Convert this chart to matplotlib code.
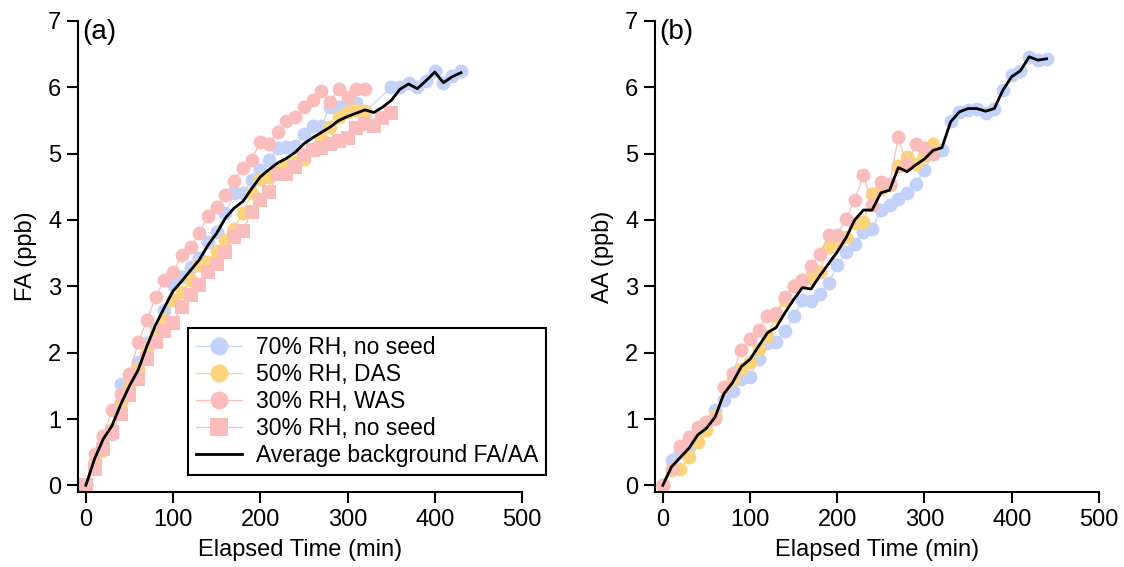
import numpy as np
import matplotlib.pyplot as plt

plt.rcParams['font.family'] = ['Liberation Sans', 'DejaVu Sans']

# colours of the four experiments
blue = '#c3d2fb'
yellow = '#fdd47c'
pink = '#fbbcbc'

# (a) formic acid, ppb
t_a_blue = list(range(0, 330, 10)) + list(range(350, 440, 10))
fa_blue = [0, 0.35, 0.73, 0.78, 1.53, 1.56, 1.86, 2.14, 2.36, 2.64, 3.04, 3.14, 3.29,
           3.42, 3.67, 3.82, 4.10, 4.40, 4.40, 4.60, 4.75, 4.90, 5.08, 5.10, 5.11, 5.30,
           5.41, 5.42, 5.71, 5.71, 5.78, 5.77, 5.63,
           6.00, 6.00, 6.07, 6.00, 6.10, 6.24, 6.07, 6.17, 6.24]
t_a_yellow = list(range(0, 330, 10))
fa_yellow = [0, 0.35, 0.53, 0.85, 1.26, 1.50, 1.75, 2.07, 2.30, 2.49, 2.79, 2.92, 3.09,
             3.32, 3.37, 3.53, 3.70, 3.87, 4.10, 4.40, 4.62, 4.65, 4.74, 4.83, 4.88, 4.92,
             5.05, 5.23, 5.40, 5.56, 5.63, 5.66, 5.65]
t_a_pink = list(range(0, 330, 10))
fa_pink = [0, 0.47, 0.75, 1.13, 1.38, 1.68, 2.16, 2.49, 2.84, 3.10, 3.22, 3.47, 3.59,
           3.80, 4.06, 4.20, 4.37, 4.59, 4.79, 4.91, 5.18, 5.15, 5.33, 5.49, 5.55, 5.70,
           5.81, 5.95, 5.78, 5.98, 5.86, 5.98, 5.97]
t_a_square = list(range(0, 360, 10))
fa_square = [0, 0.24, 0.55, 0.80, 1.08, 1.36, 1.61, 1.90, 2.16, 2.33, 2.45, 2.69, 2.87,
             3.02, 3.22, 3.34, 3.52, 3.75, 3.84, 4.12, 4.30, 4.42, 4.70, 4.70, 4.80, 4.98,
             5.06, 5.08, 5.15, 5.19, 5.23, 5.38, 5.44, 5.41, 5.53, 5.62]
t_a_avg = list(range(0, 440, 10))
fa_avg = [0, 0.40, 0.70, 0.90, 1.22, 1.50, 1.74, 2.10, 2.42, 2.68, 2.93, 3.08, 3.24,
          3.40, 3.62, 3.80, 4.03, 4.18, 4.28, 4.47, 4.65, 4.76, 4.86, 4.93, 5.02, 5.15,
          5.24, 5.32, 5.40, 5.50, 5.56, 5.61, 5.66, 5.62, 5.70, 5.80, 5.97, 6.05, 5.98,
          6.10, 6.23, 6.07, 6.16, 6.22]

# (b) acetic acid, ppb
t_b_blue = list(range(0, 450, 10))
aa_blue = [0, 0.38, 0.50, 0.58, 0.80, 0.94, 1.13, 1.28, 1.42, 1.61, 1.64, 1.91, 2.14,
           2.16, 2.33, 2.55, 2.79, 2.78, 2.89, 3.05, 3.32, 3.52, 3.64, 3.82, 3.87, 4.15,
           4.23, 4.32, 4.40, 4.54, 4.76, 4.99, 5.06, 5.49, 5.63, 5.66, 5.68, 5.62, 5.67,
           5.96, 6.18, 6.25, 6.46, 6.41, 6.43]
t_b_yellow = list(range(0, 320, 10))
aa_yellow = [0, 0.23, 0.24, 0.43, 0.65, 0.83, 1.05, 1.48, 1.60, 1.76, 1.86, 2.06, 2.25,
             2.56, 2.80, 3.00, 3.09, 3.12, 3.22, 3.59, 3.65, 3.75, 3.96, 3.97, 4.39, 4.47,
             4.52, 4.81, 4.95, 4.85, 4.97, 5.14]
t_b_pink = list(range(0, 320, 10))
aa_pink = [0, 0.25, 0.60, 0.73, 0.88, 0.95, 1.00, 1.48, 1.69, 2.04, 2.21, 2.34, 2.56,
           2.60, 2.84, 3.00, 3.09, 3.30, 3.49, 3.77, 3.77, 4.02, 4.30, 4.68, 4.22, 4.57,
           4.55, 5.25, 4.83, 5.15, 5.08, 5.00]
t_b_avg = list(range(0, 450, 10))
aa_avg = [0, 0.28, 0.42, 0.56, 0.76, 0.86, 1.03, 1.38, 1.55, 1.79, 1.90, 2.10, 2.30,
          2.38, 2.60, 2.80, 2.98, 2.96, 3.16, 3.34, 3.52, 3.73, 4.00, 4.15, 4.15, 4.41,
          4.45, 4.79, 4.73, 4.83, 4.92, 5.05, 5.09, 5.48, 5.63, 5.68, 5.68, 5.64, 5.68,
          5.96, 6.16, 6.25, 6.46, 6.41, 6.43]

labels = ['70% RH, no seed', '50% RH, DAS', '30% RH, WAS', '30% RH, no seed',
          'Average background FA/AA']

fig = plt.figure(figsize=(11.24, 5.67), dpi=100)
ax1 = fig.add_axes([0.0694, 0.1323, 0.395, 0.8307])
ax2 = fig.add_axes([0.5827, 0.1323, 0.395, 0.8307])

mk = dict(lw=0.9, ms=10, markeredgewidth=0)

ax1.plot(t_a_blue, fa_blue, 'o-', color=blue, label=labels[0], **mk)
ax1.plot(t_a_yellow, fa_yellow, 'o-', color=yellow, label=labels[1], **mk)
ax1.plot(t_a_pink, fa_pink, 'o-', color=pink, label=labels[2], **mk)
ax1.plot(t_a_square, fa_square, 's-', color=pink, label=labels[3], **mk)
ax1.plot(t_a_avg, fa_avg, '-', color='black', lw=2, label=labels[4])

ax2.plot(t_b_blue, aa_blue, 'o-', color=blue, **mk)
ax2.plot(t_b_yellow, aa_yellow, 'o-', color=yellow, **mk)
ax2.plot(t_b_pink, aa_pink, 'o-', color=pink, **mk)
ax2.plot(t_b_avg, aa_avg, '-', color='black', lw=2)

for ax, ylab, tag in [(ax1, 'FA (ppb)', '(a)'), (ax2, 'AA (ppb)', '(b)')]:
    ax.set_xlim(-9, 500)
    ax.set_ylim(-0.1, 7)
    ax.set_xticks([0, 100, 200, 300, 400, 500])
    ax.set_yticks(range(0, 8))
    ax.spines['top'].set_visible(False)
    ax.spines['right'].set_visible(False)
    ax.spines['left'].set_linewidth(1.5)
    ax.spines['bottom'].set_linewidth(1.5)
    ax.tick_params(direction='out', length=8, width=1.5, labelsize=17, pad=4)
    ax.set_xlabel('Elapsed Time (min)', fontsize=17, labelpad=6)
    ax.set_ylabel(ylab, fontsize=17, labelpad=8)
    ax.text(0.01, 1.005, tag, transform=ax.transAxes, fontsize=20, va='top', ha='left')

leg = ax1.legend(loc='lower left', bbox_to_anchor=(0.248, 0.036), fontsize=16.5,
                 frameon=True, fancybox=False, framealpha=1, edgecolor='black',
                 handlelength=2.0, labelspacing=0.17, borderpad=0.35, handletextpad=0.6,
                 borderaxespad=0, markerscale=1.3)
leg.get_frame().set_linewidth(1.5)

plt.savefig('out.png', dpi=100)
